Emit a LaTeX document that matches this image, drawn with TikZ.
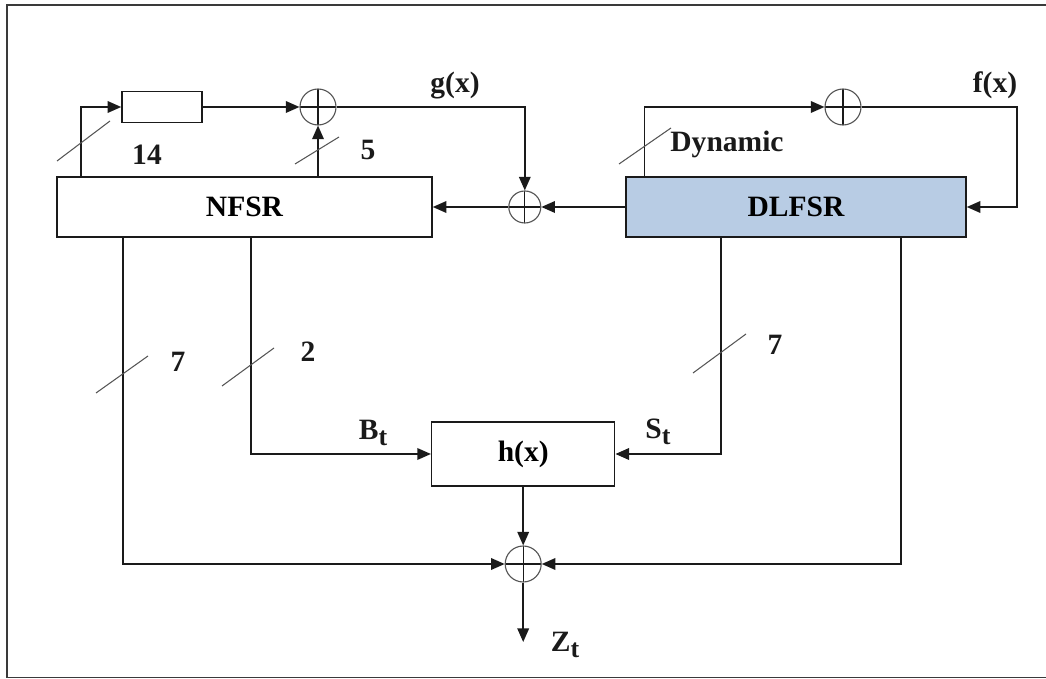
\documentclass[tikz,border=0pt]{standalone}
\usepackage{fontspec}
\setmainfont{Liberation Serif}
\usepackage{xcolor}
\usetikzlibrary{arrows.meta,positioning,calc}
\definecolor{ink}{HTML}{1A1A1A}
\definecolor{inkgray}{HTML}{555555}
\definecolor{framegray}{HTML}{3A3A3A}
\definecolor{regblue}{HTML}{B8CCE4}
\newcommand{\lblfont}{\fontsize{21}{24}\selectfont\bfseries}
\newcommand{\lowt}[1]{#1\raisebox{-0.45ex}{\fontsize{18.5}{18.5}\selectfont t}}
\tikzset{
  regbox/.style={draw=ink,fill=white,line width=1.1pt,inner sep=0pt,
                 font=\lblfont},
  xorgate/.style={circle,draw=inkgray,line width=0.8pt,minimum size=0.9cm,
                  inner sep=0pt,
                  path picture={\draw[line width=0.9pt,draw=ink]
                    (path picture bounding box.north) -- (path picture bounding box.south)
                    (path picture bounding box.west) -- (path picture bounding box.east);}},
  sigarr/.style={-{Triangle[length=3.4mm,width=2.9mm]},line width=1.1pt,
                 draw=ink},
  buswidth/.style={line width=0.75pt,draw=inkgray},
  lbltext/.style={inner sep=0pt,font=\lblfont,text=ink},
  frameline/.style={line width=1.1pt,draw=framegray}
}

\begin{document}
\begin{tikzpicture}[x=1cm,y=1cm]
    \path[use as bounding box] (0,0) rectangle (26.15,16.975);
    \draw[frameline] (26.4,16.85) -- (0.175,16.85) -- (0.175,0.04) -- (26.4,0.04);

    \node[regbox,minimum width=2cm,minimum height=0.775cm] (delay) at (4.05,14.3) {};
    \node[xorgate] (gxor) at (7.95,14.3) {};
    \node[regbox,minimum width=9.375cm,minimum height=1.5cm] (nfsr) at (6.1125,11.8) {NFSR};
    \node[xorgate,minimum size=0.8cm] (mixxor) at (13.12,11.8) {};
    \node[regbox,fill=regblue,minimum width=8.5cm,minimum height=1.5cm] (dlfsr) at (19.9,11.8) {DLFSR};
    \node[xorgate] (fxor) at (21.075,14.3) {};
    \node[regbox,minimum width=4.575cm,minimum height=1.6cm] (hbox) at (13.08,5.625) {h(x)};
    \node[xorgate] (outxor) at (13.08,2.875) {};

    \coordinate (tapA) at (2.025,0);
    \coordinate (tapDyn) at (16.11,0);
    \coordinate (fturn) at (25.425,14.3);
    \coordinate (tapB) at (3.075,0);
    \coordinate (tapC) at (6.275,0);
    \coordinate (tapS) at (18.025,0);
    \coordinate (tapK) at (22.525,0);
    \coordinate (zout) at (13.08,0.925);

    \draw[sigarr] (nfsr.north -| tapA) |- (delay.west);
    \draw[sigarr] (delay) -- (gxor);
    \draw[sigarr] (nfsr.north -| gxor) -- (gxor);
    \draw[sigarr] (gxor) -| (mixxor);
    \draw[sigarr] (dlfsr) -- (mixxor);
    \draw[sigarr] (mixxor) -- (nfsr);
    \draw[sigarr] (dlfsr.north -| tapDyn) |- (fxor);
    \draw[sigarr] (fxor) -- (fturn) |- (dlfsr.east);
    \draw[sigarr] (nfsr.south -| tapB) |- (outxor);
    \draw[sigarr] (nfsr.south -| tapC) |- (hbox);
    \draw[sigarr] (dlfsr.south -| tapS) |- (hbox);
    \draw[sigarr] (dlfsr.south -| tapK) |- (outxor);
    \draw[sigarr] (hbox) -- (outxor);
    \draw[sigarr] (outxor) -- (zout);

    \draw[buswidth] (1.425,12.95) -- (2.75,13.95);
    \draw[buswidth] (7.375,12.875) -- (8.475,13.55);
    \draw[buswidth] (15.475,12.875) -- (16.775,13.775);
    \draw[buswidth] (2.4,7.15) -- (3.7,8.075);
    \draw[buswidth] (5.55,7.325) -- (6.85,8.275);
    \draw[buswidth] (17.325,7.65) -- (18.65,8.625);

    \node[lbltext] (w14) at (3.675,13.1) {14};
    \node[lbltext] (w5) at (9.2,13.225) {5};
    \node[lbltext] (gx) at (11.375,14.825) {g(x)};
    \node[lbltext] (dyn) at (18.175,13.375) {Dynamic};
    \node[lbltext] (fx) at (24.875,14.85) {f(x)};
    \node[lbltext] (w7a) at (4.45,7.925) {7};
    \node[lbltext] (w2) at (7.7,8.175) {2};
    \node[lbltext] (bt) at (9.325,6.15) {\lowt{B}};
    \node[lbltext] (w7b) at (19.375,8.35) {7};
    \node[lbltext] (st) at (16.45,6.175) {\lowt{S}};
    \node[lbltext] (zt) at (14.125,0.85) {\lowt{Z}};
  \end{tikzpicture}
\end{document}
